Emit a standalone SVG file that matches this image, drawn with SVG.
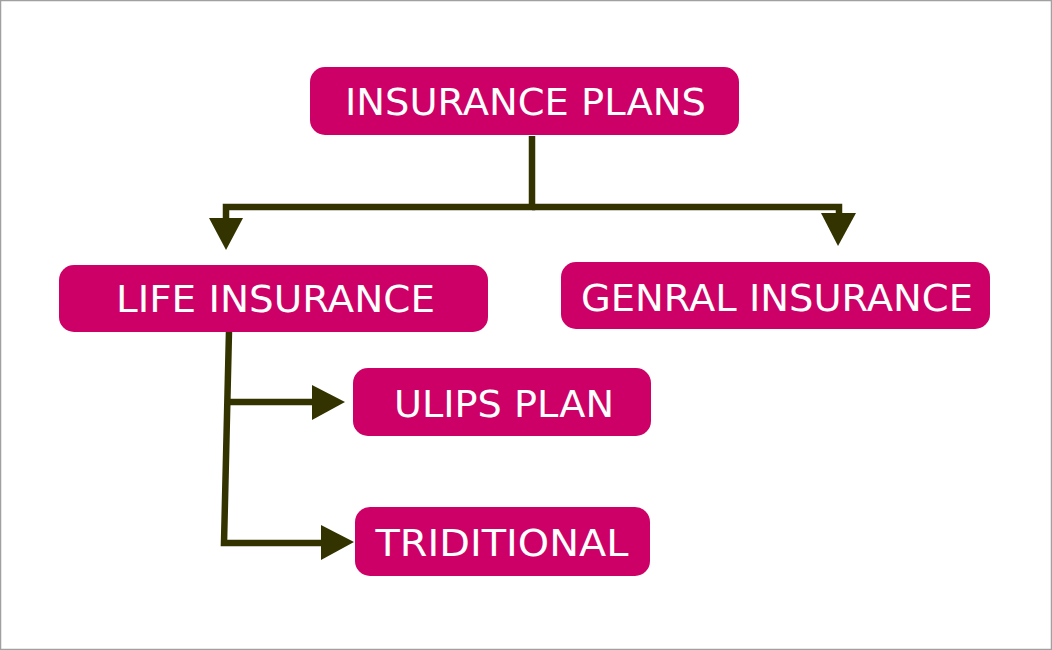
<svg xmlns="http://www.w3.org/2000/svg" width="1052" height="650" viewBox="0 0 1052 650">
<style>
.node{fill:#CC0066;}
.lbl{fill:#FFFFFF;font-family:"DejaVu Sans","Verdana",sans-serif;font-size:38px;text-anchor:middle;}
.wire{fill:none;stroke:#333300;stroke-width:6.5;}
.head{fill:#333300;}
</style>
<rect x="0.5" y="0.5" width="1051" height="649" fill="#FFFFFF" stroke="#A0A0A0" stroke-width="1.5"/>
<g id="connectors">
<path class="wire" d="M532,136 V207 H226 V222"/>
<polygon class="head" points="209,218 243,218 226,250"/>
<path class="wire" d="M532,207 H839 V217"/>
<polygon class="head" points="821,213 856,213 838,246"/>
<path class="wire" d="M229,331 L224,543 H324"/>
<polygon class="head" points="321,525 321,560 354,542"/>
<path class="wire" d="M228,402 H315"/>
<polygon class="head" points="312,385 312,420 345,402"/>
</g>
<g id="insurance-plans">
<rect class="node" x="310" y="67" width="429" height="68" rx="15"/>
<text class="lbl" x="525.5" y="115" textLength="361" lengthAdjust="spacingAndGlyphs">INSURANCE PLANS</text>
</g>
<g id="life-insurance">
<rect class="node" x="59" y="265" width="429" height="67" rx="15"/>
<text class="lbl" x="275.5" y="312" textLength="319" lengthAdjust="spacingAndGlyphs">LIFE INSURANCE</text>
</g>
<g id="general-insurance">
<rect class="node" x="561" y="262" width="429" height="67" rx="15"/>
<text class="lbl" x="777" y="311" textLength="392" lengthAdjust="spacingAndGlyphs">GENRAL INSURANCE</text>
</g>
<g id="ulips-plan">
<rect class="node" x="353" y="368" width="298" height="68" rx="15"/>
<text class="lbl" x="504" y="417" textLength="220" lengthAdjust="spacingAndGlyphs">ULIPS PLAN</text>
</g>
<g id="traditional">
<rect class="node" x="355" y="507" width="295" height="69" rx="15"/>
<text class="lbl" x="502" y="556" textLength="253" lengthAdjust="spacingAndGlyphs">TRIDITIONAL</text>
</g>
</svg>
